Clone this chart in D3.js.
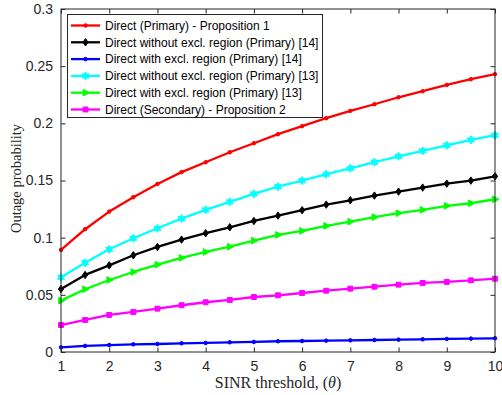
<!DOCTYPE html>
<html>
<head>
<meta charset="utf-8">
<script src="https://cdn.jsdelivr.net/npm/d3@7/dist/d3.min.js"></script>
<style>
  html, body { margin: 0; padding: 0; background: #fff; }
  svg { display: block; }
</style>
</head>
<body>
<script>
// SINR threshold values (x axis)
const theta = [1, 1.5, 2, 2.5, 3, 3.5, 4, 4.5, 5, 5.5, 6, 6.5, 7, 7.5, 8, 8.5, 9, 9.5, 10];

// Outage probability for each scheme
const directPrimaryProp1 = [0.0893, 0.1074, 0.1228, 0.1354, 0.1470, 0.1573, 0.1660, 0.1747, 0.1826, 0.1905,
  0.1975, 0.2045, 0.2109, 0.2167, 0.2228, 0.2281, 0.2336, 0.2386, 0.2430];
const withoutExcl14 = [0.0551, 0.0674, 0.0758, 0.0846, 0.0919, 0.0983, 0.1039, 0.1091, 0.1146, 0.1193,
  0.1240, 0.1289, 0.1327, 0.1368, 0.1403, 0.1438, 0.1473, 0.1499, 0.1537];
const withExcl14 = [0.0041, 0.0053, 0.0061, 0.0067, 0.0070, 0.0076, 0.0079, 0.0085, 0.0088, 0.0094,
  0.0096, 0.0099, 0.0102, 0.0105, 0.0108, 0.0111, 0.0114, 0.0117, 0.0120];
const withoutExcl13 = [0.0653, 0.0781, 0.0898, 0.0995, 0.1082, 0.1167, 0.1243, 0.1313, 0.1383, 0.1446,
  0.1499, 0.1555, 0.1607, 0.1660, 0.1712, 0.1759, 0.1808, 0.1855, 0.1896];
const withExcl13 = [0.0449, 0.0549, 0.0630, 0.0700, 0.0764, 0.0823, 0.0875, 0.0921, 0.0974, 0.1024,
  0.1059, 0.1103, 0.1140, 0.1179, 0.1214, 0.1243, 0.1278, 0.1301, 0.1336];
const directSecondaryProp2 = [0.0236, 0.0280, 0.0324, 0.0350, 0.0379, 0.0409, 0.0435, 0.0455, 0.0481, 0.0496,
  0.0516, 0.0536, 0.0554, 0.0571, 0.0589, 0.0604, 0.0613, 0.0627, 0.0641];

const seriesNames = [
  "Direct (Primary) - Proposition 1",
  "Direct without excl. region (Primary) [14]",
  "Direct with excl. region (Primary) [14]",
  "Direct without excl. region (Primary) [13]",
  "Direct with excl. region (Primary) [13]",
  "Direct (Secondary) - Proposition 2"
];
const seriesColors = ["#ff0000", "#000000", "#0000ff", "#00ffff", "#00ff00", "#ff00ff"];
const seriesMarkers = ["dot", "diamond", "dot", "hexagram", "triangleRight", "square"];

const xTicks = [1, 2, 3, 4, 5, 6, 7, 8, 9, 10];
const yTicks = [0, 0.05, 0.1, 0.15, 0.2, 0.25, 0.3];
const xLabelText = "SINR threshold, (";
const xLabelSymbol = "θ";
const yLabel = "Outage probability";

const seriesValues = [directPrimaryProp1, withoutExcl14, withExcl14, withoutExcl13, withExcl13, directSecondaryProp2];

const W = 502, H = 395;
const plot = { left: 61, right: 495, top: 9, bottom: 352 };
const axisColor = "#262626";

const svg = d3.select("body").append("svg")
  .attr("width", W).attr("height", H)
  .attr("font-family", "'Liberation Sans', Arial, Helvetica, sans-serif");

const x = d3.scaleLinear().domain([1, 10]).range([plot.left, plot.right]);
const y = d3.scaleLinear().domain([0, 0.3]).range([plot.bottom, plot.top]);

// Six-pointed star symbol
const hexagram = {
  draw(ctx, size) {
    const r = Math.sqrt(size) * 0.75, ri = r * 0.55;
    for (let i = 0; i < 12; i++) {
      const a = -Math.PI / 2 + i * Math.PI / 6;
      const rr = i % 2 === 0 ? r : ri;
      const px = rr * Math.cos(a), py = rr * Math.sin(a);
      if (i === 0) ctx.moveTo(px, py); else ctx.lineTo(px, py);
    }
    ctx.closePath();
  }
};
const triangleRight = {
  draw(ctx, size) {
    const r = Math.sqrt(size) * 0.62;
    ctx.moveTo(r, 0);
    ctx.lineTo(-r * 0.6, -r * 0.85);
    ctx.lineTo(-r * 0.6, r * 0.85);
    ctx.closePath();
  }
};
const diamond = {
  draw(ctx, size) {
    const r = Math.sqrt(size) * 0.6;
    ctx.moveTo(0, -r);
    ctx.lineTo(r * 0.7, 0);
    ctx.lineTo(0, r);
    ctx.lineTo(-r * 0.7, 0);
    ctx.closePath();
  }
};

function markerPath(kind) {
  switch (kind) {
    case "dot": return d3.symbol().type(d3.symbolCircle).size(10)();
    case "diamond": return d3.symbol().type(diamond).size(38)();
    case "hexagram": return d3.symbol().type(hexagram).size(30)();
    case "triangleRight": return d3.symbol().type(triangleRight).size(40)();
    case "square": return d3.symbol().type(d3.symbolSquare).size(24)();
  }
}

// Axes: ticks inward on all four sides
const tick = 4.5;
svg.append("g").attr("transform", `translate(0,${plot.bottom})`)
  .call(d3.axisBottom(x).tickValues(xTicks).tickFormat(d3.format("d"))
    .tickSizeInner(-tick).tickSizeOuter(0).tickPadding(9))
  .call(g => g.select(".domain").remove());
svg.append("g").attr("transform", `translate(0,${plot.top})`)
  .call(d3.axisTop(x).tickValues(xTicks).tickFormat("")
    .tickSizeInner(-tick).tickSizeOuter(0))
  .call(g => g.select(".domain").remove());
svg.append("g").attr("transform", `translate(${plot.left},0)`)
  .call(d3.axisLeft(y).tickValues(yTicks).tickFormat(d => d === 0 ? "0" : String(+d.toFixed(2)))
    .tickSizeInner(-tick).tickSizeOuter(0).tickPadding(8))
  .call(g => g.select(".domain").remove());
svg.append("g").attr("transform", `translate(${plot.right},0)`)
  .call(d3.axisRight(y).tickValues(yTicks).tickFormat("")
    .tickSizeInner(-tick).tickSizeOuter(0))
  .call(g => g.select(".domain").remove());

svg.selectAll(".tick line").attr("stroke", axisColor).attr("stroke-width", 1);
svg.selectAll(".tick text").attr("fill", axisColor)
  .attr("font-size", 14)
  .attr("font-family", "'Liberation Sans', Arial, Helvetica, sans-serif");

// Series lines and markers
const line = d3.line().x((d, i) => x(theta[i])).y(d => y(d));
const plotG = svg.append("g");
seriesValues.forEach((vals, s) => {
  plotG.append("path")
    .attr("d", line(vals))
    .attr("fill", "none")
    .attr("stroke", seriesColors[s])
    .attr("stroke-width", 2.3)
    .attr("stroke-linejoin", "round");
  plotG.selectAll(null).data(vals).enter().append("path")
    .attr("d", markerPath(seriesMarkers[s]))
    .attr("transform", (d, i) => `translate(${x(theta[i])},${y(d)})`)
    .attr("fill", seriesColors[s])
    .attr("stroke", seriesColors[s])
    .attr("stroke-width", 1);
});

// Frame
svg.append("rect")
  .attr("x", plot.left).attr("y", plot.top)
  .attr("width", plot.right - plot.left).attr("height", plot.bottom - plot.top)
  .attr("fill", "none").attr("stroke", axisColor).attr("stroke-width", 1);

// Axis labels
const xl = svg.append("text")
  .attr("x", (plot.left + plot.right) / 2).attr("y", 388)
  .attr("text-anchor", "middle")
  .attr("font-family", "'Liberation Serif', 'Times New Roman', serif")
  .attr("font-size", 16).attr("fill", axisColor);
xl.append("tspan").text(xLabelText);
xl.append("tspan").attr("font-style", "italic").text(xLabelSymbol);
xl.append("tspan").text(")");
svg.append("text")
  .attr("transform", `translate(21,${(plot.top + plot.bottom) / 2 - 2}) rotate(-90)`)
  .attr("text-anchor", "middle")
  .attr("font-family", "'Liberation Serif', 'Times New Roman', serif")
  .attr("font-size", 14.5).attr("fill", axisColor)
  .text(yLabel);

// Legend
const legend = { x: 67.5, y: 14.5, w: 255, h: 103, row: 16.8, first: 25.5 };
const lg = svg.append("g");
lg.append("rect")
  .attr("x", legend.x).attr("y", legend.y).attr("width", legend.w).attr("height", legend.h)
  .attr("fill", "#fff").attr("stroke", axisColor).attr("stroke-width", 1);
seriesNames.forEach((name, s) => {
  const cy = legend.first + s * legend.row;
  lg.append("line")
    .attr("x1", 71).attr("x2", 100).attr("y1", cy).attr("y2", cy)
    .attr("stroke", seriesColors[s]).attr("stroke-width", 2.3);
  lg.append("path")
    .attr("d", markerPath(seriesMarkers[s]))
    .attr("transform", `translate(85.5,${cy})`)
    .attr("fill", seriesColors[s]).attr("stroke", seriesColors[s]).attr("stroke-width", 1);
  lg.append("text")
    .attr("x", 105).attr("y", cy).attr("dy", "0.36em")
    .attr("font-size", 12).attr("fill", "#000")
    .text(name);
});
</script>
</body>
</html>
